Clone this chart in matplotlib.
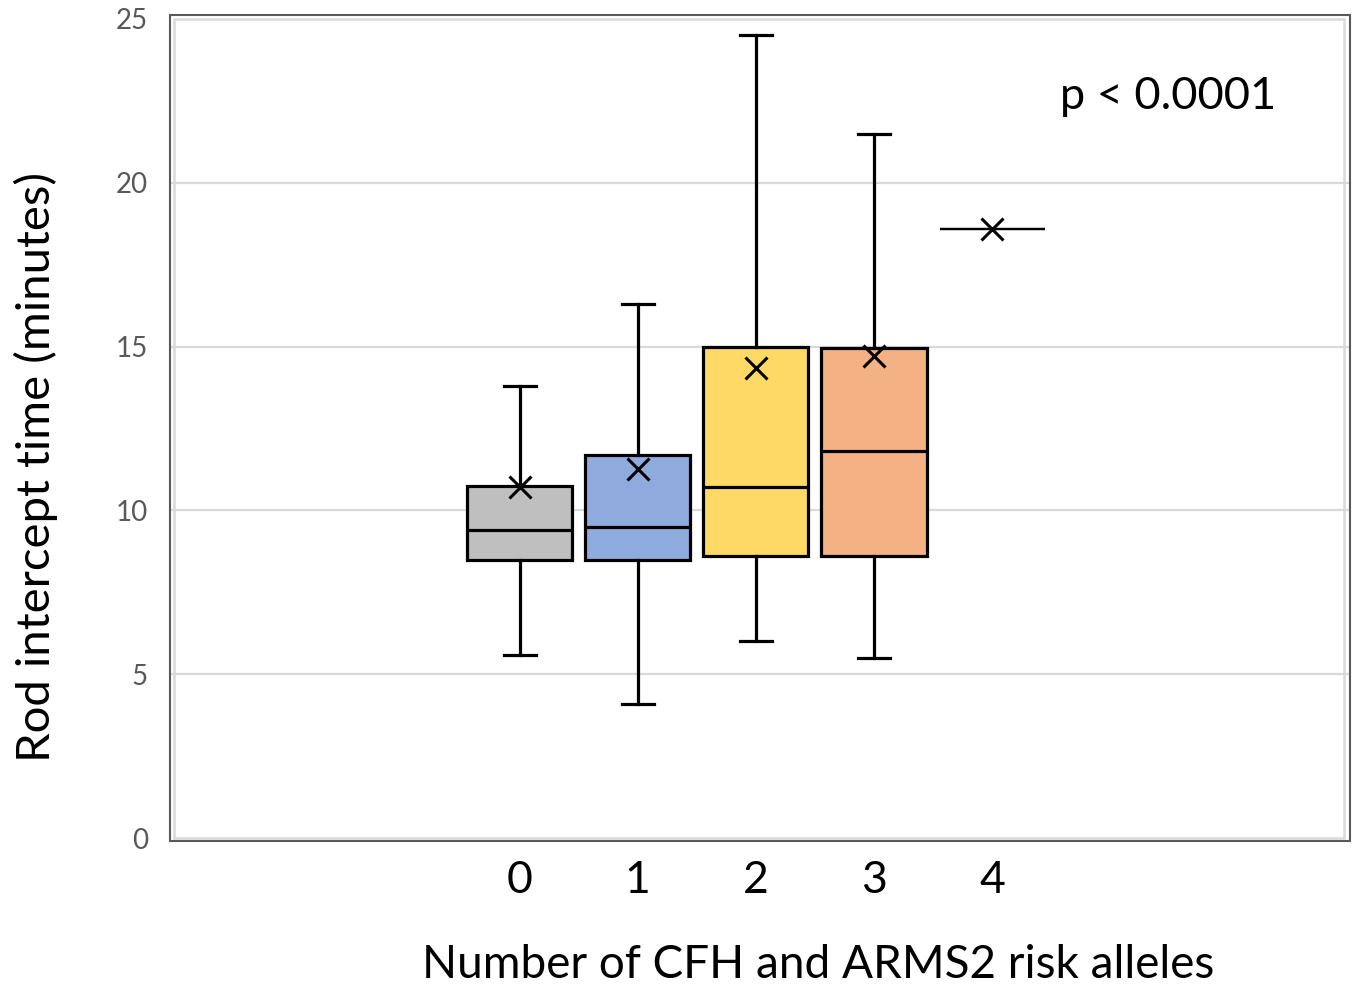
import matplotlib.pyplot as plt
from matplotlib.patches import Rectangle

plt.rcParams['font.family'] = ['Lato', 'DejaVu Sans']

# values (minutes)
groups = ['0', '1', '2', '3', '4']
whis_lo = [5.6, 4.1, 6.0, 5.5, 18.6]
q1 = [8.5, 8.5, 8.6, 8.6, 18.6]
medians = [9.4, 9.5, 10.7, 11.8, 18.6]
q3 = [10.75, 11.7, 15.0, 14.95, 18.6]
whis_hi = [13.8, 16.3, 24.5, 21.5, 18.6]
means = [10.7, 11.25, 14.35, 14.7, 18.6]
colors = ['#BFBFBF', '#8FAADC', '#FFD966', '#F4B183', '#FFFFFF']

stats = []
for i, g in enumerate(groups):
    stats.append(dict(label=g, whislo=whis_lo[i], q1=q1[i], med=medians[i],
                      q3=q3[i], whishi=whis_hi[i], mean=means[i], fliers=[]))

fig = plt.figure(figsize=(13.57, 9.86), dpi=100)
ax = fig.add_axes([170/1357, 1-841/986, 1180/1357, 826/986])

pos = list(range(len(groups)))
bp = ax.bxp(stats, positions=pos, widths=0.89, patch_artist=True, showmeans=True,
            capwidths=0.27,
            boxprops=dict(linewidth=2.3, edgecolor='black'),
            medianprops=dict(color='black', linewidth=2.3),
            whiskerprops=dict(color='black', linewidth=2.3),
            capprops=dict(color='black', linewidth=2.3),
            meanprops=dict(marker='x', markersize=16, markeredgecolor='black',
                           markeredgewidth=2.2))
for patch, c in zip(bp['boxes'], colors):
    patch.set_facecolor(c)
bp['boxes'][4].set_linewidth(1.6)
bp['medians'][4].set_linewidth(1.6)
for cap in bp['caps'][8:]:
    cap.set_visible(False)

ax.set_xlim(-2.96, 7.03)
ax.set_ylim(-0.09, 25.12)
ax.set_yticks([0, 5, 10, 15, 20, 25])
ax.set_xticks(pos)
ax.set_xticklabels(groups)
for y in [5, 10, 15, 20]:
    ax.axhline(y, color='#D9D9D9', linewidth=1.6, zorder=0)
ax.add_patch(Rectangle((0.0035, 0.0035), 0.991, 0.9917, transform=ax.transAxes,
                       fill=False, edgecolor='#D9D9D9', linewidth=1.8, zorder=0))

for s in ax.spines.values():
    s.set_color('#595959')
    s.set_linewidth(1.5)
ax.tick_params(axis='y', length=0, pad=16, labelsize=20, labelcolor='#595959')
ax.tick_params(axis='x', length=0, pad=14, labelsize=32, labelcolor='black')

ax.set_ylabel('Rod intercept time (minutes)', fontsize=34)
ax.yaxis.set_label_coords(-0.114, 0.453)
ax.yaxis.label.set_va('center')
ax.set_xlabel('Number of CFH and ARMS2 risk alleles', fontsize=33)
ax.xaxis.set_label_coords(0.549, -0.150)
ax.xaxis.label.set_va('center')

ax.text(0.754, 0.901, 'p < 0.0001', transform=ax.transAxes, fontsize=32.5,
        ha='left', va='center')

fig.savefig('out.png', dpi=100)
